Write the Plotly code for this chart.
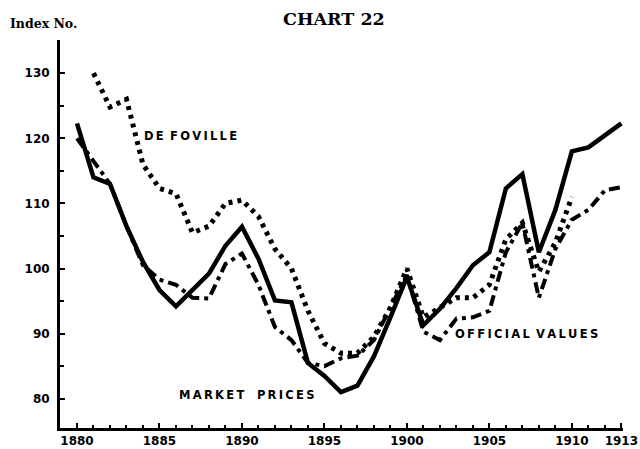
import plotly.graph_objects as go

# index numbers
years = list(range(1880, 1914))
market_prices = [122.3, 114.0, 113.0, 106.5, 101.0, 96.7, 94.2, 96.7, 99.2, 103.5,
                 106.4, 101.5, 95.1, 94.8, 85.5, 83.5, 81.0, 82.0, 86.5, 92.5,
                 98.7, 91.3, 93.8, 97.0, 100.5, 102.5, 112.3, 114.5, 102.5, 109.0,
                 118.0, 118.6, 120.5, 122.3]
official_values = [120.0, 116.5, 113.0, 106.5, 100.5, 98.3, 97.5, 95.5, 95.4, 100.7,
                   102.3, 97.5, 91.0, 89.0, 85.5, 85.0, 86.2, 86.6, 89.0, 94.0,
                   99.0, 90.3, 89.0, 92.3, 92.5, 93.5, 102.5, 107.0, 95.5, 103.0,
                   107.5, 109.0, 112.0, 112.5]
foville_years = list(range(1881, 1911))
de_foville = [130.0, 124.8, 126.0, 116.0, 112.3, 111.5, 105.5, 106.5, 110.0, 110.5,
              108.0, 103.0, 100.0, 93.5, 88.5, 87.0, 87.0, 89.5, 94.0, 100.0,
              92.5, 94.0, 95.5, 95.5, 97.5, 104.5, 107.0, 99.5, 104.0, 111.0]

x_ticks = [1880, 1885, 1890, 1895, 1900, 1905, 1910, 1913]
y_ticks = [80, 90, 100, 110, 120, 130]


def spaced(s):
    # the printed labels are widely letter-spaced
    return '\u2009'.join(s).replace('\u2009 \u2009', '\u2009 ')


fig = go.Figure()
fig.add_trace(go.Scatter(x=foville_years, y=de_foville, mode='lines',
                         line=dict(color='black', width=5, dash='4px,5px')))
fig.add_trace(go.Scatter(x=years, y=official_values, mode='lines',
                         line=dict(color='black', width=4, dash='11px,5px,4px,5px')))
fig.add_trace(go.Scatter(x=years, y=market_prices, mode='lines',
                         line=dict(color='black', width=4.5)))

tick_font = dict(family='DejaVu Sans', size=12, color='black', weight='bold')
label_font = dict(family='DejaVu Sans', size=11.5, color='black', weight='bold')

fig.update_layout(
    width=640, height=449,
    margin=dict(l=60, r=17, t=40, b=21),
    paper_bgcolor='white', plot_bgcolor='white',
    showlegend=False,
    xaxis=dict(range=[1878.97, 1913.1], tickvals=x_ticks, ticktext=[str(v) for v in x_ticks],
               ticks='inside', ticklen=5, tickwidth=2, tickcolor='black',
               minor=dict(dtick=1, tick0=1880, ticks='inside', ticklen=3, tickwidth=2, tickcolor='black'),
               showline=True, linewidth=3, linecolor='black', showgrid=False,
               zeroline=False, tickfont=tick_font, ticklabelstandoff=0,
               ticklabeloverflow='allow', automargin=False),
    yaxis=dict(range=[75.5, 135.1], tickvals=y_ticks,
               ticks='inside', ticklen=5, tickwidth=2, tickcolor='black',
               minor=dict(dtick=5, tick0=80, ticks='inside', ticklen=4, tickwidth=2, tickcolor='black'),
               showline=True, linewidth=3, linecolor='black', showgrid=False,
               zeroline=False, tickfont=tick_font, ticklabelstandoff=5, automargin=False),
)

fig.add_annotation(text='CHART 22', xref='paper', yref='paper', x=0.4867, y=1.0, yshift=21.5,
                   xanchor='center', yanchor='middle', showarrow=False,
                   font=dict(family='DejaVu Serif', size=17.5, color='black', weight='bold'))
fig.add_annotation(text='Index No.', xref='paper', yref='paper', x=-0.0924, y=1.0, yshift=16.5,
                   xanchor='left', yanchor='middle', showarrow=False,
                   font=dict(family='DejaVu Serif', size=12.5, color='black', weight='bold'))
fig.add_annotation(text=spaced('DE FOVILLE'), x=1883.94, y=120.4, xanchor='left', yanchor='middle',
                   showarrow=False, font=label_font)
fig.add_annotation(text=spaced('MARKET  PRICES'), x=1886.06, y=80.6, xanchor='left', yanchor='middle',
                   showarrow=False, font=label_font)
fig.add_annotation(text=spaced('OFFICIAL VALUES'), x=1902.79, y=89.9, xanchor='left', yanchor='middle',
                   showarrow=False, font=label_font)

# drop the browser's default 8px body margin so the figure fills the window
fig.write_html("out.html", config={'displayModeBar': False},
               post_script="document.body.style.margin = '0';")
